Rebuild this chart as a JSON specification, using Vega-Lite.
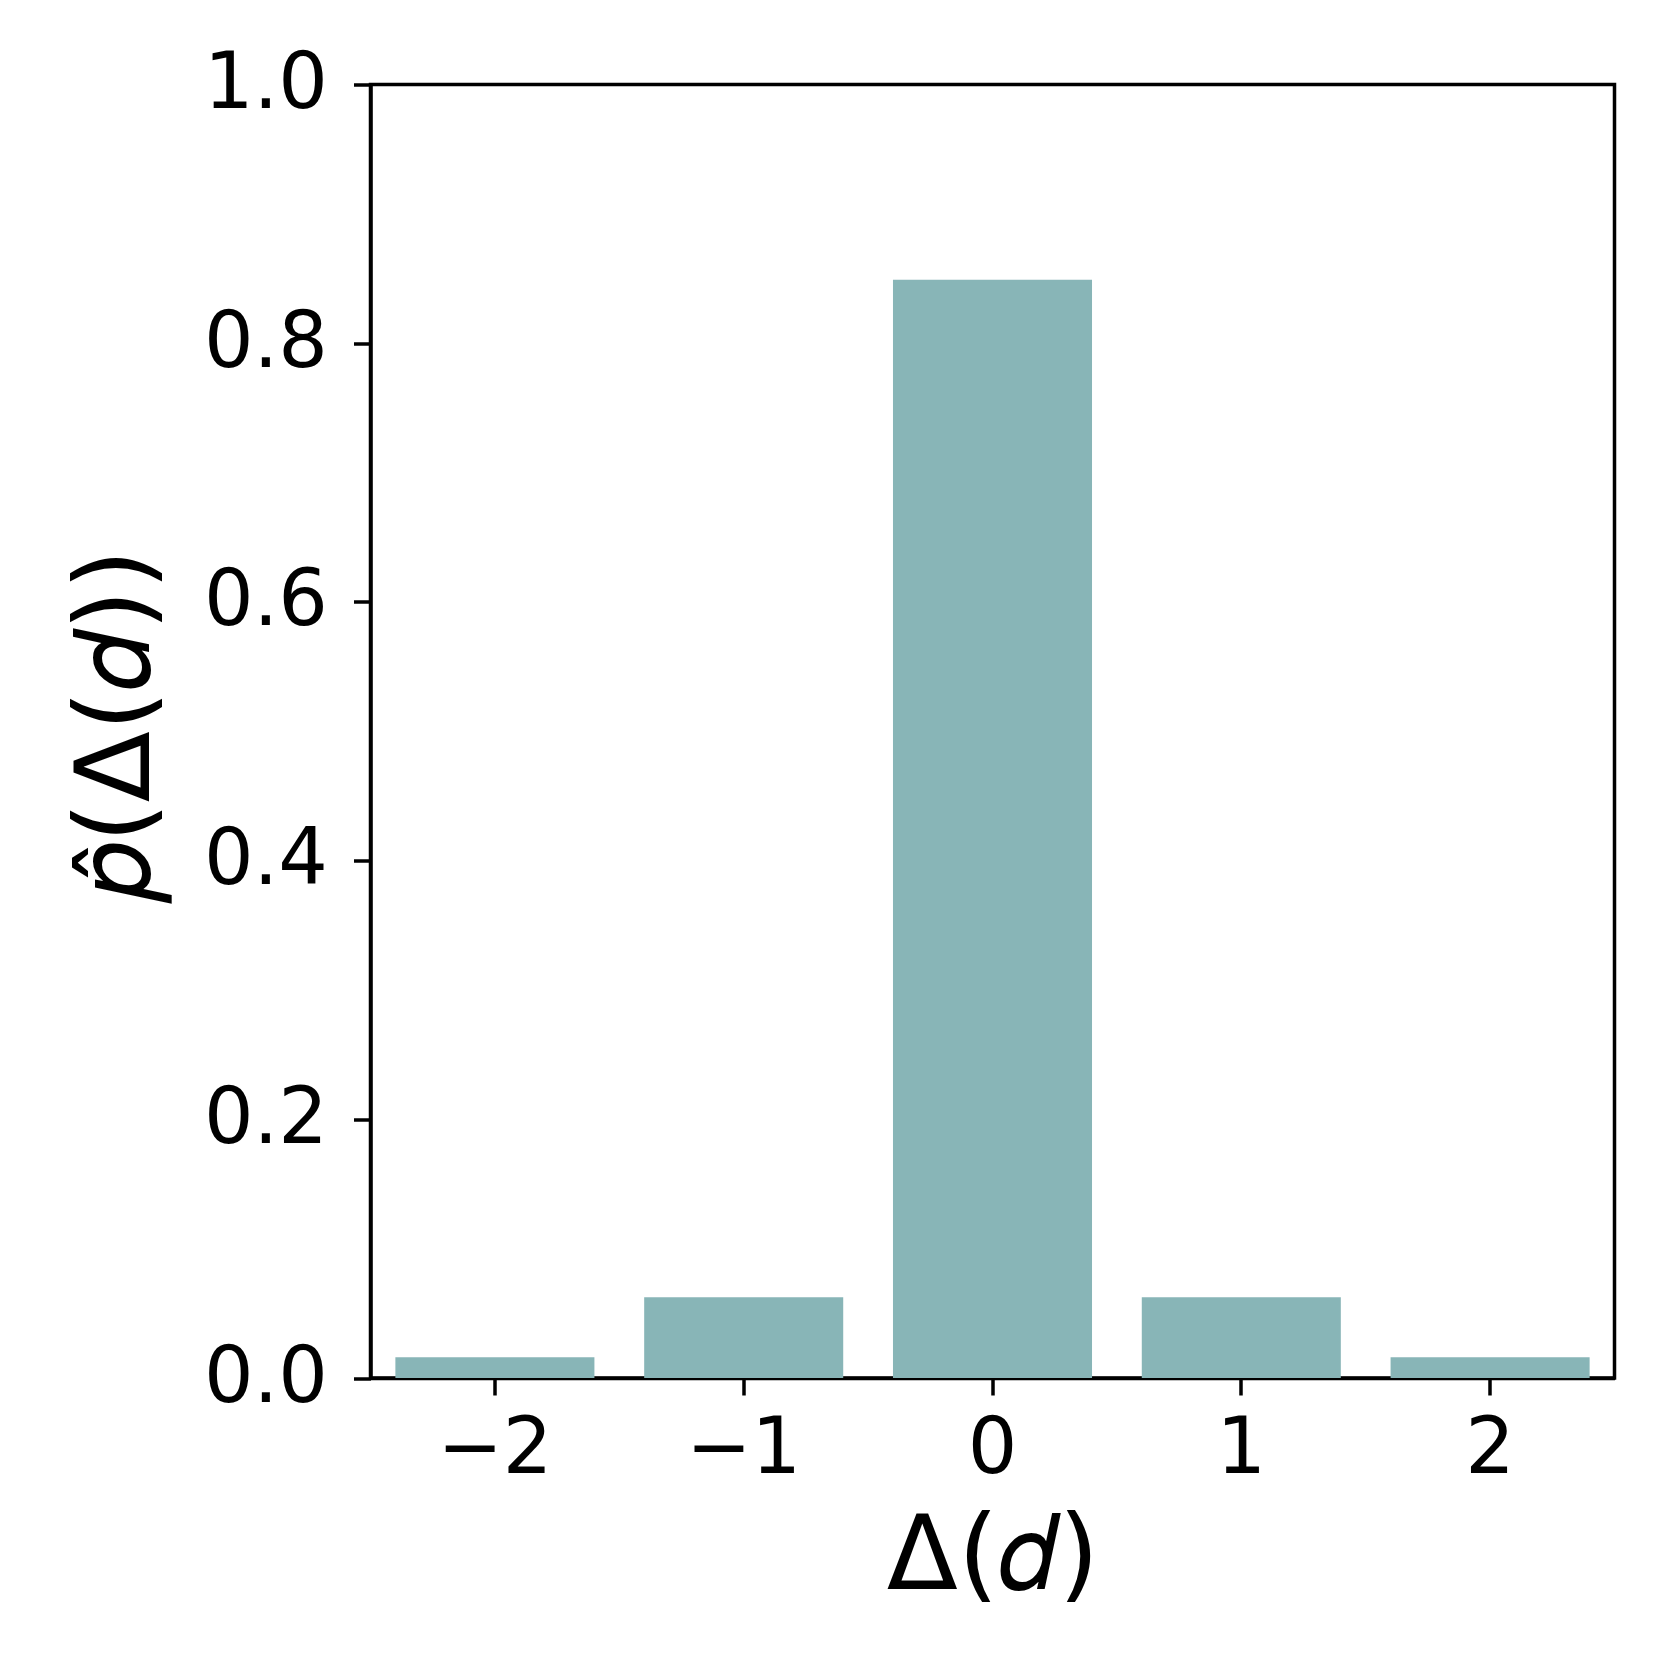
{
  "$schema": "https://vega.github.io/schema/vega-lite/v6.json",
  "autosize": {"type": "none"},
  "padding": {"left": 370.5, "top": 84.5, "right": 48.5, "bottom": 285},
  "width": 1244,
  "height": 1293.5,
  "background": "white",
  "config": {
    "view": {"stroke": "black", "strokeWidth": 3.5},
    "font": "DejaVu Sans"
  },
  "data": {
    "values": [
      {"delta": -2, "p": 0.016},
      {"delta": -1, "p": 0.0625},
      {"delta": 0, "p": 0.849},
      {"delta": 1, "p": 0.0625},
      {"delta": 2, "p": 0.016}
    ]
  },
  "mark": {"type": "bar", "color": "#88b5b7"},
  "encoding": {
    "x": {
      "field": "delta",
      "type": "ordinal",
      "sort": [-2, -1, 0, 1, 2],
      "scale": {"paddingInner": 0.2, "paddingOuter": 0.1},
      "axis": {
        "title": "Δ(𝑑)",
        "labelExpr": "replace(datum.label, '-', '−')",
        "labelAngle": 0,
        "labelFont": "DejaVu Sans",
        "labelFontSize": 78,
        "labelColor": "black",
        "labelPadding": 15,
        "tickSize": 17,
        "tickWidth": 3.5,
        "tickColor": "black",
        "domainColor": "black",
        "domainWidth": 3.5,
        "titleFont": "DejaVu Sans",
        "titleFontSize": 104,
        "titleFontWeight": "normal",
        "titleColor": "black",
        "titleBaseline": "alphabetic",
        "titleY": 210
      }
    },
    "y": {
      "field": "p",
      "type": "quantitative",
      "scale": {"domain": [0, 1]},
      "axis": {
        "title": "𝑝̂(Δ(𝑑))",
        "values": [0, 0.2, 0.4, 0.6, 0.8, 1.0],
        "format": ".1f",
        "grid": false,
        "labelFont": "DejaVu Sans",
        "labelFontSize": 78,
        "labelColor": "black",
        "labelPadding": 26,
        "tickSize": 17,
        "tickWidth": 3.5,
        "tickColor": "black",
        "domainColor": "black",
        "domainWidth": 3.5,
        "titleFont": "DejaVu Sans",
        "titleFontSize": 104,
        "titleFontWeight": "normal",
        "titleColor": "black",
        "titleBaseline": "alphabetic",
        "titleAngle": 270,
        "titleX": -222,
        "titleY": 640
      }
    }
  }
}
